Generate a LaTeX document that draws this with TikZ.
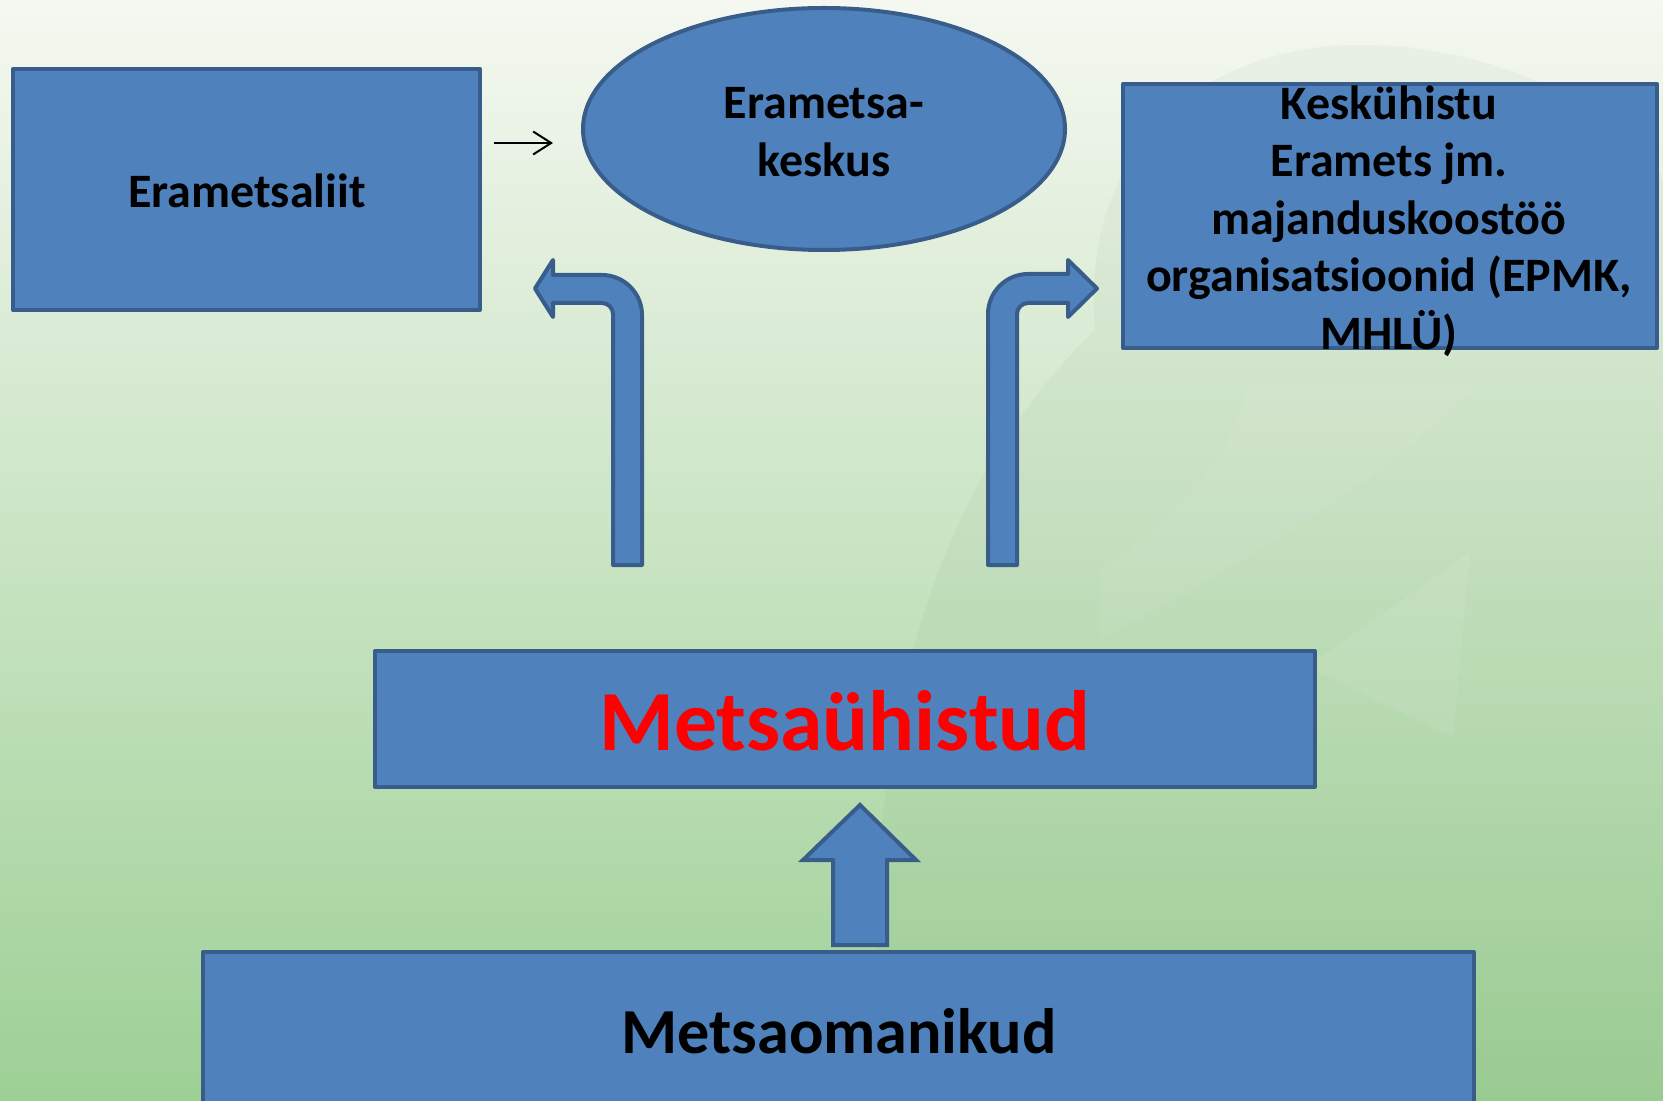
\documentclass[tikz,border=0pt]{standalone}
\usepackage{fontspec}
\setmainfont{Carlito}
\usetikzlibrary{shapes.geometric,arrows.meta}
\definecolor{boxfill}{HTML}{4F81BD}
\definecolor{boxline}{HTML}{385D8A}
\definecolor{bgtop}{HTML}{F5F8F1}
\definecolor{bgmid}{HTML}{CDE4C8}
\definecolor{bgbot}{HTML}{9DD095}
\definecolor{wmdark}{HTML}{5E7F55}
\definecolor{txtred}{HTML}{FF0000}
\begin{document}
\begin{tikzpicture}[x=0.5pt,y=-0.5pt,
  blk/.style={draw=boxline, fill=boxfill, line width=2pt, line join=round},
  plainbox/.style={blk, rectangle, inner sep=0pt},
  lbl/.style={inner sep=0pt, align=center, font=\bfseries\fontsize{24}{28.7}\selectfont},
]
\useasboundingbox (0,0) rectangle (1663,1101);
\clip (0,0) rectangle (1663,1101);
% background
\shade[top color=bgtop, middle color=bgmid, bottom color=bgbot] (0,0) rectangle (1663,1101);
% faint watermark
\fill[wmdark, opacity=0.05] (1095,330) .. controls (1080,150) and (1200,45) .. (1360,45)
  .. controls (1520,45) and (1640,130) .. (1663,180) -- (1663,1101) -- (880,1101)
  .. controls (860,800) and (900,520) .. (1095,330) -- cycle;
\fill[white, opacity=0.07] (1470,552) -- (1307,667) -- (1453,737) -- cycle;
\fill[white, opacity=0.05] (1250,380) .. controls (1230,470) and (1160,530) .. (1100,570)
  -- (1100,640) .. controls (1250,560) and (1400,470) .. (1480,380) -- cycle;

% boxes
\node[plainbox, minimum width=233.5pt, minimum height=120.5pt] (liit) at (246.5,189.5) {};
\node[lbl] (liittxt) at (247,191) {Erametsaliit};

\node[blk, ellipse, inner sep=0pt, minimum width=241pt, minimum height=121pt] (keskus) at (824,129) {};
\node[lbl] (keskustxt) at (824,132) {Erametsa-\\keskus};

\node[plainbox, minimum width=267pt, minimum height=132pt] (kesk) at (1390,216) {};
\node[lbl] (keskttxt) at (1389,221) {Keskühistu\\Eramets jm.\\majanduskoostöö\\organisatsioonid (EPMK,\\MHLÜ)};

\node[plainbox, minimum width=470pt, minimum height=68pt] (yhistud) at (845,719) {};
\node[lbl, text=txtred, font=\bfseries\fontsize{42.8}{50}\selectfont] (yhistudtxt) at (845,721) {Metsaühistud};

\node[plainbox, minimum width=635.5pt, minimum height=84pt] (omanikud) at (838.5,1036) {};
\node[lbl, font=\bfseries\fontsize{32.1}{38}\selectfont] (omanikudtxt) at (839,1031) {Metsaomanikud};

% small arrow
\coordinate (sa) at (494,143);
\coordinate (sb) at (553,143);
\draw[line width=1pt, -{Straight Barb[length=9pt,width=11.5pt,line width=1pt]}] (sa) -- (sb);

% left bent arrow
\draw[blk] (613,565) -- (613,314) .. controls (613,308) and (608,303) .. (602,303)
  -- (553,303) -- (553,317) -- (535,288.5) -- (553,260) -- (553,275) -- (602,275)
  .. controls (624,275) and (642,293) .. (642,315) -- (642,565) -- cycle;

% right bent arrow
\draw[blk] (988,565) -- (988,314) .. controls (988,292) and (1006,274) .. (1028,274)
  -- (1068,274) -- (1068,260) -- (1097,288.5) -- (1068,317) -- (1068,303) -- (1028,303)
  .. controls (1022,303) and (1017,308) .. (1017,314) -- (1017,565) -- cycle;

% up arrow
\draw[blk, line join=miter] (833,945) -- (833,860) -- (803,860) -- (860,805) -- (916,860)
  -- (887,860) -- (887,945) -- cycle;
\end{tikzpicture}
\end{document}
